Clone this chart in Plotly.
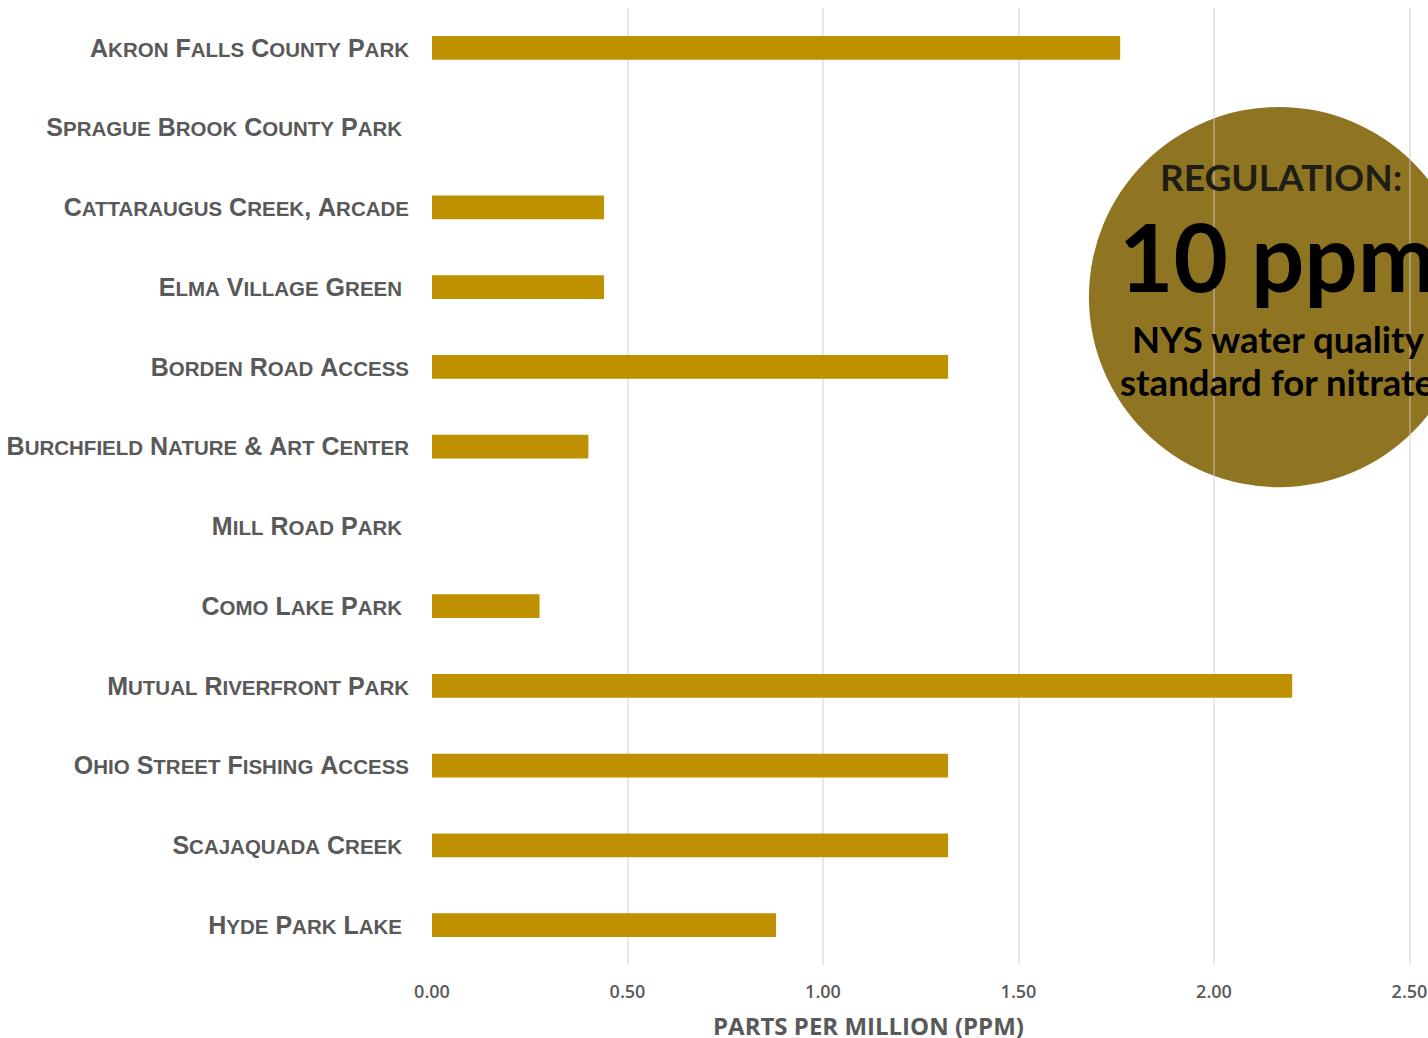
import plotly.graph_objects as go

# Nitrate sampling results by site (parts per million)
sites = [
    "Akron Falls County Park",
    "Sprague Brook County Park ",
    "Cattaraugus Creek, Arcade",
    "Elma Village Green ",
    "Borden Road Access",
    "Burchfield Nature & Art Center",
    "Mill Road Park ",
    "Como Lake Park ",
    "Mutual Riverfront Park",
    "Ohio Street Fishing Access",
    "Scajaquada Creek ",
    "Hyde Park Lake ",
]
nitrate_ppm = [1.76, 0, 0.44, 0.44, 1.32, 0.40, 0, 0.275, 2.20, 1.32, 1.32, 0.88]
x_ticks = [0, 0.5, 1.0, 1.5, 2.0, 2.5]
x_tick_labels = ["0.00", "0.50", "1.00", "1.50", "2.00", "2.50"]

BAR_COLOR = "#BF9000"
LABEL_GRAY = "#595959"
CAP_SIZE = 25
SMALL_SIZE = 20.5


def small_caps(name):
    """Render a name in small capitals: capitals full size, the rest as smaller capitals."""
    out = []
    run, run_small = "", None
    for ch in name:
        is_small = ch.islower()
        if run_small is None or is_small == run_small:
            run += ch
        else:
            out.append((run, run_small))
            run = ch
        run_small = is_small
    if run:
        out.append((run, run_small))
    html = ""
    for text, small in out:
        text = text.upper().replace("&", "&amp;").replace(" ", "\u00a0")
        size = SMALL_SIZE if small else CAP_SIZE
        html += f'<span style="font-size:{size}px">{text}</span>'
    return html


fig = go.Figure(
    go.Bar(
        x=nitrate_ppm,
        y=sites,
        orientation="h",
        marker=dict(color=BAR_COLOR, line=dict(width=0)),
        width=0.3,
    )
)

# Callout circle for the regulatory limit
cx, cy, r_px = 2.166, 3.125, 190
px_per_unit_x = 391.0
px_per_cat = 79.7
fig.add_shape(
    type="circle",
    xref="x", yref="y",
    x0=cx - r_px / px_per_unit_x, x1=cx + r_px / px_per_unit_x,
    y0=cy - r_px / px_per_cat, y1=cy + r_px / px_per_cat,
    fillcolor="#8F7422",
    line=dict(width=0),
    layer="below",
)


def py(pix):
    return 1 - (pix - 8) / 957


def pxx(pix):
    return (pix - 432) / 996


fig.add_annotation(
    xref="paper", yref="paper", x=pxx(1281), y=py(176),
    text="<b>REGULATION:</b>", showarrow=False, xanchor="center", yanchor="middle",
    font=dict(family="Lato", size=37, color="#1E1E14", weight=900),
)
fig.add_annotation(
    xref="paper", yref="paper", x=pxx(1117), y=py(256),
    text="<b>10 ppm</b>", showarrow=False, xanchor="left", yanchor="middle",
    font=dict(family="Lato", size=94, color="#000000", weight=900),
)
fig.add_annotation(
    xref="paper", yref="paper", x=pxx(1278), y=py(339),
    text="<b>NYS water quality</b>", showarrow=False,
    xanchor="center", yanchor="middle",
    font=dict(family="Lato", size=36.5, color="#000000", weight=900),
)
fig.add_annotation(
    xref="paper", yref="paper", x=pxx(1118), y=py(382),
    text="<b>standard for nitrate</b>", showarrow=False,
    xanchor="left", yanchor="middle",
    font=dict(family="Lato", size=36.5, color="#000000", weight=900),
)

# Axis title, centred under the labelled ticks
fig.add_annotation(
    xref="paper", yref="paper", x=pxx(868), y=py(1025),
    text="<b>PARTS PER MILLION (PPM)</b>", showarrow=False,
    xanchor="center", yanchor="middle",
    font=dict(family="Open Sans", size=24, color=LABEL_GRAY),
)

fig.update_layout(
    width=1428,
    height=1038,
    margin=dict(l=432, r=0, t=8, b=73),
    paper_bgcolor="white",
    plot_bgcolor="white",
    showlegend=False,
    bargap=0.7,
    xaxis=dict(
        range=[0, 996 / px_per_unit_x],
        tickvals=x_ticks,
        ticktext=x_tick_labels,
        showgrid=True,
        gridcolor="rgba(205,205,205,0.45)",
        gridwidth=1.5,
        zeroline=False,
        showline=False,
        ticks="",
        ticklabelstandoff=14,
        tickfont=dict(family="Open Sans", size=18, color=LABEL_GRAY, weight=600),
        fixedrange=True,
    ),
    yaxis=dict(
        categoryorder="array",
        categoryarray=sites,
        autorange="reversed",
        tickvals=sites,
        ticktext=[small_caps(s) for s in sites],
        showgrid=False,
        zeroline=False,
        showline=False,
        ticks="",
        ticklabelstandoff=22,
        tickfont=dict(family="Liberation Sans", size=CAP_SIZE, color=LABEL_GRAY,
                      weight=700),
        fixedrange=True,
    ),
)

fig.write_html("out.html", config={"displayModeBar": False})
